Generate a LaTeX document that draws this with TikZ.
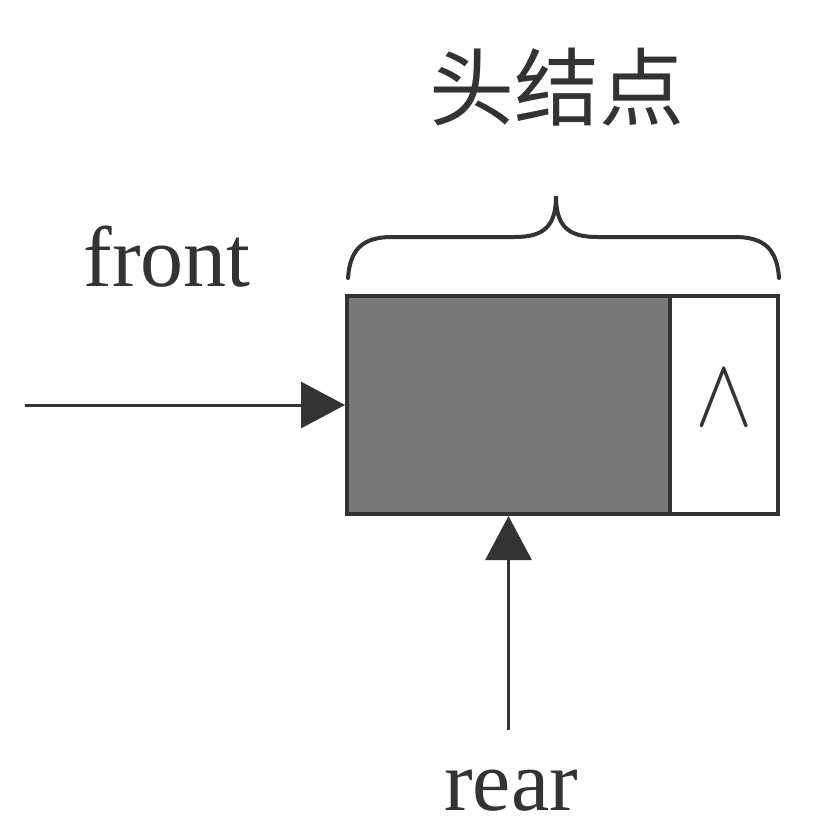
\documentclass[tikz,border=0pt]{standalone}
\usepackage{fontspec}
\setmainfont{Liberation Serif}
\newfontfamily\cjk{Noto Sans CJK SC}
\usetikzlibrary{arrows.meta}
\definecolor{ink}{HTML}{333333}
\definecolor{shade}{HTML}{787878}
\tikzset{
  cell/.style={draw=ink, line width=4pt, inner sep=0pt, minimum height=218pt},
  ptr/.style={draw=ink, line width=3pt, -{Triangle[length=44pt,width=46pt]}},
  label/.style={text=ink, font=\fontsize{86}{90}\selectfont, anchor=base}
}
\begin{document}
\begin{tikzpicture}[x=1pt,y=-1pt]
   \useasboundingbox (0,0) rectangle (821,830);
   % head node of the queue
   \node[cell, fill=shade, minimum width=323pt] (head) at (508.5,405) {};
   \node[cell, fill=white, minimum width=108pt, text=ink] (nil) at (724,405)
        {\raisebox{14pt}{\scalebox{8.6}[9.8]{$\wedge$}}};
   % labels
   \node[label, font=\cjk\fontsize{85}{90}\selectfont] (title) at (557,119) {头结点};
   \node[label] (front) at (167,286) {front};
   \node[label] (rear) at (511,810) {rear};
   % brace over the head node
   \draw[ink, line width=4pt, line cap=round]
        (348,278) .. controls (350,250) and (362,237) .. (392,237)
        -- (515,237) .. controls (545,237) and (556,225) .. (556,196)
        .. controls (556,225) and (567,237) .. (597,237)
        -- (735,237) .. controls (765,237) and (777,250) .. (779,278);
   % pointers
   \coordinate (fstart) at (25,405);
   \coordinate (rstart) at (508.5,730);
   \draw[ptr] (fstart) -- (head.west);
   \draw[ptr] (rstart) -- (head.south);
\end{tikzpicture}
\end{document}
